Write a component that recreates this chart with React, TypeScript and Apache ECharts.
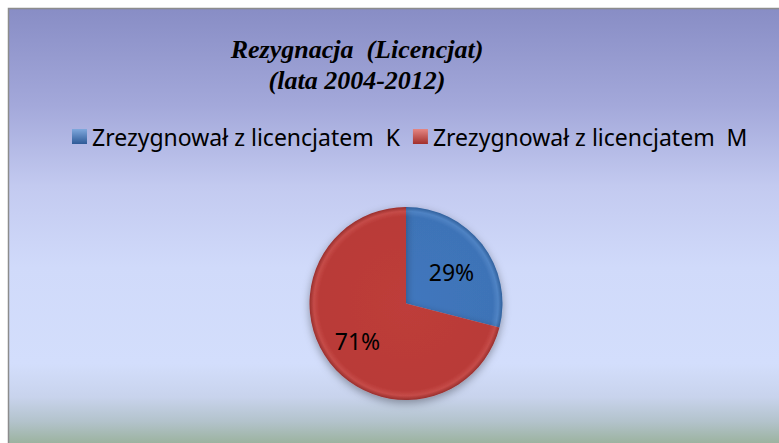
import React, { useEffect, useRef } from "react";
import * as echarts from "echarts";

const titleLines = ["Rezygnacja  (Licencjat)", "(lata 2004-2012)"];
const categories = ["Zrezygnował z licencjatem  K", "Zrezygnował z licencjatem  M"];
const values = [29, 71];

export default function App() {
  const ref = useRef<HTMLDivElement>(null);
  useEffect(() => {
    document.body.style.margin = "0";
    const chart = echarts.init(ref.current!, null, { renderer: "svg" });
    const cx = 406, cy = 303.5, r = 96.5;
    const blue = new echarts.graphic.RadialGradient(cx, cy, r, [
      { offset: 0, color: "#4077BE" },
      { offset: 0.9, color: "#3E73B7" },
      { offset: 0.955, color: "#4F83C4" },
      { offset: 1, color: "#30609C" },
    ], true);
    const red = new echarts.graphic.RadialGradient(cx, cy, r, [
      { offset: 0, color: "#BE3D3A" },
      { offset: 0.9, color: "#B93A37" },
      { offset: 0.955, color: "#C54B48" },
      { offset: 1, color: "#982E2C" },
    ], true);
    const legBlue = new echarts.graphic.LinearGradient(0, 0, 0, 1, [
      { offset: 0, color: "#7FA8DD" },
      { offset: 1, color: "#2E5A97" },
    ]);
    const legRed = new echarts.graphic.LinearGradient(0, 0, 0, 1, [
      { offset: 0, color: "#E58683" },
      { offset: 1, color: "#A22F2C" },
    ]);
    chart.setOption({
      animation: false,
      graphic: [
        {
          type: "rect",
          z: -10,
          silent: true,
          shape: { x: 8.5, y: 8.5, width: 820, height: 480 },
          style: {
            stroke: "#8C8C8C",
            lineWidth: 1.5,
            fill: new echarts.graphic.LinearGradient(0, 0, 0, 1, [
              { offset: 0, color: "#888DC5" },
              { offset: 0.2, color: "#A3A8DA" },
              { offset: 0.37, color: "#C3CAF0" },
              { offset: 0.54, color: "#D0DAFA" },
              { offset: 0.74, color: "#D3DEFC" },
              { offset: 0.81, color: "#C8D3EC" },
              { offset: 0.86, color: "#B3C3CC" },
              { offset: 0.905, color: "#9CB3A0" },
              { offset: 1, color: "#95AD98" },
            ]),
          },
        },
        {
          type: "text",
          x: 357,
          y: 49,
          style: {
            text: titleLines[0],
            textAlign: "center",
            textVerticalAlign: "middle",
            font: "italic bold 26px 'Liberation Serif'",
            fill: "#000",
          },
        },
        {
          type: "text",
          x: 357,
          y: 80,
          style: {
            text: titleLines[1],
            textAlign: "center",
            textVerticalAlign: "middle",
            font: "italic bold 26px 'Liberation Serif'",
            fill: "#000",
          },
        },
      ],
      legend: {
        left: 67,
        top: 120,
        itemWidth: 15,
        itemHeight: 15,
        itemGap: 13,
        icon: "rect",
        textStyle: { fontFamily: "Noto Sans", fontSize: 23, color: "#000" },
        data: [
          { name: categories[0], itemStyle: { color: legBlue } },
          { name: categories[1], itemStyle: { color: legRed } },
        ],
      },
      series: [
        {
          type: "pie",
          center: [cx, cy],
          radius: [0, r],
          startAngle: 90,
          clockwise: true,
          label: {
            show: true,
            position: "inside",
            formatter: "{d}%",
            fontFamily: "Noto Sans",
            fontSize: 23,
            color: "#000",
          },
          labelLine: { show: false },
          itemStyle: { shadowBlur: 8, shadowColor: "rgba(0,0,0,0.35)", shadowOffsetY: 3 },
          data: [
            { name: categories[0], value: values[0], itemStyle: { color: blue }, label: { offset: [5, 0] } },
            { name: categories[1], value: values[1], itemStyle: { color: red }, label: { offset: [-8, 6] } },
          ],
        },
      ],
    });
    return () => chart.dispose();
  }, []);
  return <div ref={ref} style={{ width: 779, height: 443 }} />;
}
